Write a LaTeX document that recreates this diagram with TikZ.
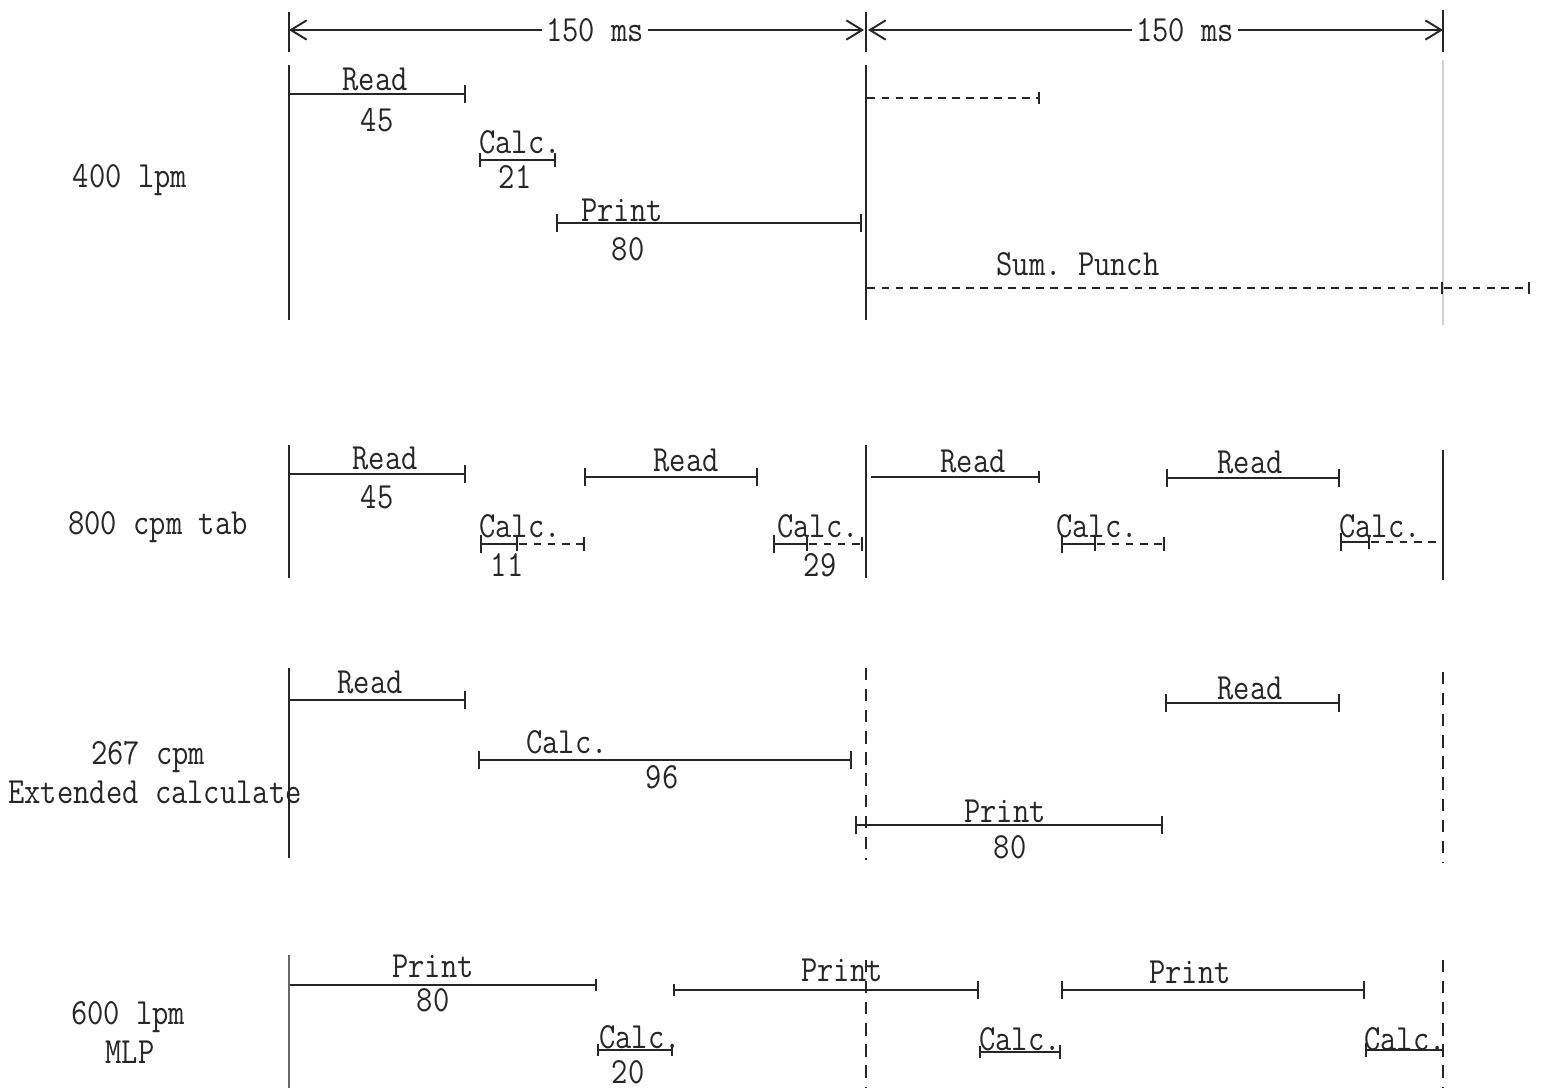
\documentclass[tikz,border=0pt]{standalone}
\usepackage{tikz}
\usetikzlibrary{arrows.meta}

\newcommand{\tw}[1]{\scalebox{0.9}[1.05]{\ttfamily\fontsize{20}{22}\selectfont #1}}

\begin{document}
\begin{tikzpicture}[x=0.02cm, y=-0.02cm,
      txt/.style={text=black!85, inner sep=0pt},
      bar/.style={{Bar[width=10pt]}-{Bar[width=10pt]}, line width=1.1pt, draw=black!85},
      dbar/.style={bar, dash pattern=on 4.5pt off 3.5pt},
      sep/.style={line width=1pt, draw=black!85},
      dsep/.style={sep, dash pattern=on 7pt off 5pt},
      faint/.style={line width=0.6pt, draw=black!18},
      dim/.style={-{Straight Barb[length=9pt, width=11pt]}, line width=1.1pt, draw=black!85}]
    \useasboundingbox (0,0) rectangle (1544,1090);
    % period scale on top
    \draw[sep] (289,12) -- (289,52);
    \draw[sep] (866,12) -- (866,52);
    \draw[sep] (1443,10) -- (1443,52);
    \node[txt] (msA) at (595,30) {\tw{150 ms}};
    \node[txt] (msB) at (1185,30) {\tw{150 ms}};
    \draw[dim] ([xshift=-2pt]msA.west) -- (289,30);
    \draw[dim] ([xshift=2pt]msA.east) -- (864,30);
    \draw[dim] ([xshift=-2pt]msB.west) -- (868,30);
    \draw[dim] ([xshift=2pt]msB.east) -- (1443,30);

    % 400 lpm
    \node[txt] (lpmA) at (130,180) {\tw{400 lpm}};
    \draw[sep] (289,65) -- (289,320);
    \draw[sep, line width=1.3pt] (866,65) -- (866,320);
    \draw[faint] (1443,60) -- (1443,325);
    \draw[bar, {Bar[width=0pt]}-{Bar[width=10pt]}] (289,94) -- (466,94);
    \node[txt] (readA) at (375,79) {\tw{Read}};
    \node[txt] (readAv) at (377,120) {\tw{45}};
    \draw[bar, {Bar[width=8pt]}-{Bar[width=8pt]}] (479,160) -- (556,160);
    \node[txt] (calcA) at (520,142) {\tw{Calc.}};
    \node[txt] (calcAv) at (515,177) {\tw{21}};
    \draw[bar] (556,223) -- (862,223);
    \node[txt] (printA) at (622,210) {\tw{Print}};
    \node[txt] (printAv) at (628,249) {\tw{80}};
    \draw[dbar, {Bar[width=0pt]}-{Bar[width=7pt]}] (866,98) -- (1040,98);
    \draw[dbar, {Bar[width=0pt]}-{Bar[width=7pt]}] (866,288) -- (1443,288);
    \draw[dbar, {Bar[width=0pt]}-{Bar[width=7pt]}] (1443,288) -- (1530,288);
    \node[txt] (punch) at (1078,264) {\tw{Sum.\ Punch}};

    % 800 cpm tab
    \node[txt] (cpmA) at (158,527) {\tw{800 cpm tab}};
    \draw[sep] (289,445) -- (289,578);
    \draw[sep] (866,445) -- (866,578);
    \draw[sep, line width=1.3pt] (1443,450) -- (1443,580);
    \draw[bar, {Bar[width=0pt]}-{Bar[width=10pt]}] (289,474) -- (466,474);
    \node[txt] (readB) at (385,458) {\tw{Read}};
    \node[txt] (readBv) at (377,497) {\tw{45}};
    \draw[bar] (584,477) -- (758,477);
    \node[txt] (readC) at (686,460) {\tw{Read}};
    \draw[bar, {Bar[width=0pt]}-{Bar[width=7pt]}] (870,477) -- (1040,477);
    \node[txt] (readD) at (973,461) {\tw{Read}};
    \draw[bar] (1166,478) -- (1340,478);
    \node[txt] (readE) at (1250,462) {\tw{Read}};
    \draw[bar, {Bar[width=10pt]}-{Bar[width=8pt]}] (480,544) -- (518,544);
    \draw[dbar, {Bar[width=0pt]}-{Bar[width=8pt]}] (518,544) -- (585,544);
    \node[txt] (calcB) at (520,526) {\tw{Calc.}};
    \node[txt] (calcBv) at (507,565) {\tw{11}};
    \draw[bar, {Bar[width=10pt]}-{Bar[width=8pt]}] (773,544) -- (808,544);
    \draw[dbar, {Bar[width=0pt]}-{Bar[width=8pt]}] (808,544) -- (863,544);
    \node[txt] (calcC) at (818,526) {\tw{Calc.}};
    \node[txt] (calcCv) at (820,565) {\tw{29}};
    \draw[bar, {Bar[width=10pt]}-{Bar[width=8pt]}] (1061,544) -- (1096,544);
    \draw[dbar, {Bar[width=0pt]}-{Bar[width=8pt]}] (1096,544) -- (1165,544);
    \node[txt] (calcD) at (1097,526) {\tw{Calc.}};
    \draw[bar, {Bar[width=10pt]}-{Bar[width=8pt]}] (1340,542) -- (1370,542);
    \draw[dbar, {Bar[width=0pt]}-{Bar[width=0pt]}] (1370,542) -- (1443,542);
    \node[txt] (calcE) at (1380,526) {\tw{Calc.}};

    % 267 cpm extended calculate
    \node[txt] (cpmB) at (148,757) {\tw{267 cpm}};
    \node[txt] (ext) at (155,792) {\tw{Extended calculate}};
    \draw[sep] (289,668) -- (289,858);
    \draw[dsep] (866,668) -- (866,860);
    \draw[dsep] (1443,672) -- (1443,862);
    \draw[bar, {Bar[width=0pt]}-{Bar[width=10pt]}] (289,700) -- (466,700);
    \node[txt] (readF) at (370,682) {\tw{Read}};
    \draw[bar] (478,760) -- (852,760);
    \node[txt] (calcF) at (567,742) {\tw{Calc.}};
    \node[txt] (calcFv) at (662,777) {\tw{96}};
    \draw[bar] (855,825) -- (1163,825);
    \node[txt] (printB) at (1005,811) {\tw{Print}};
    \node[txt] (printBv) at (1010,847) {\tw{80}};
    \draw[bar] (1165,703) -- (1340,703);
    \node[txt] (readG) at (1250,688) {\tw{Read}};

    % 600 lpm MLP
    \node[txt] (lpmB) at (128,1017) {\tw{600 lpm}};
    \node[txt] (mlp) at (130,1052) {\tw{MLP}};
    \draw[sep, draw=black!60] (289,955) -- (289,1088);
    \draw[dsep] (866,960) -- (866,1088);
    \draw[dsep] (1443,960) -- (1443,1088);
    \draw[bar, {Bar[width=0pt]}-{Bar[width=7pt]}] (289,985) -- (597,985);
    \node[txt] (printC) at (433,966) {\tw{Print}};
    \node[txt] (printCv) at (433,1000) {\tw{80}};
    \draw[bar, {Bar[width=7pt]}-{Bar[width=10pt]}] (673,990) -- (979,990);
    \node[txt] (printD) at (842,970) {\tw{Print}};
    \draw[bar] (1061,990) -- (1365,990);
    \node[txt] (printE) at (1190,972) {\tw{Print}};
    \draw[bar, {Bar[width=7pt]}-{Bar[width=7pt]}] (597,1050) -- (673,1050);
    \node[txt] (calcG) at (640,1037) {\tw{Calc.}};
    \node[txt] (calcGv) at (628,1072) {\tw{20}};
    \draw[bar, {Bar[width=7pt]}-{Bar[width=8pt]}] (979,1052) -- (1061,1052);
    \node[txt] (calcH) at (1020,1039) {\tw{Calc.}};
    \draw[bar, {Bar[width=8pt]}-{Bar[width=0pt]}] (1365,1050) -- (1443,1050);
    \node[txt] (calcI) at (1405,1039) {\tw{Calc.}};
  \end{tikzpicture}
\end{document}
